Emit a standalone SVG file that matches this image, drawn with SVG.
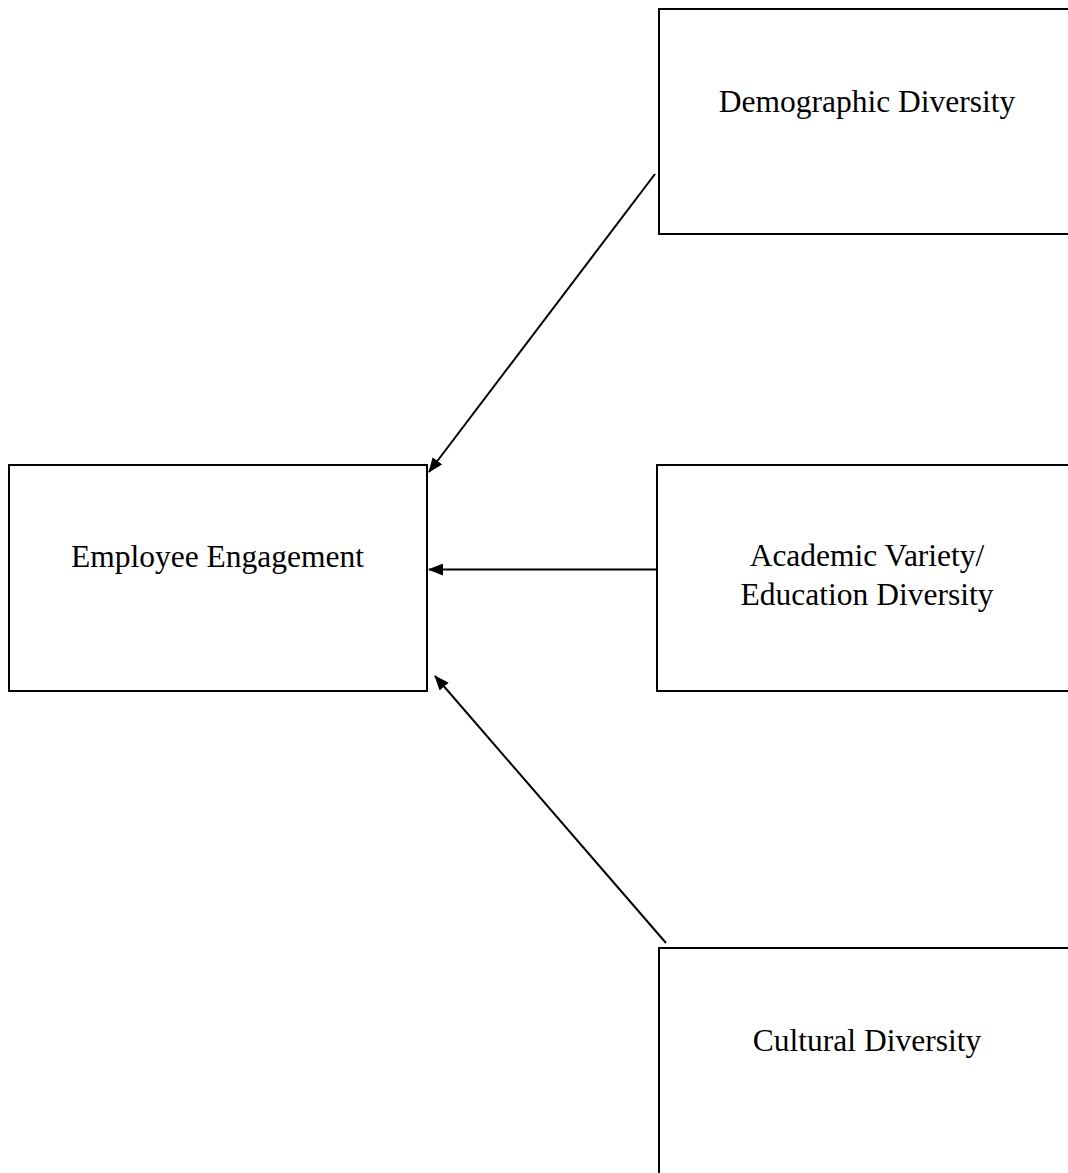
<svg xmlns="http://www.w3.org/2000/svg" width="1068" height="1173" viewBox="0 0 1068 1173">
<style>
.box{fill:#fff;stroke:#000;stroke-width:2}
.lbl{font-family:"Liberation Serif","Times New Roman",serif;font-size:31.5px;fill:#000;text-anchor:middle}
.conn{stroke:#000;stroke-width:2;fill:none;marker-end:url(#ah)}
</style>
<defs>
<marker id="ah" markerWidth="8" markerHeight="8" refX="7" refY="4" orient="auto" markerUnits="userSpaceOnUse" viewBox="0 0 8 8">
<path d="M0,0 L8,4 L0,8 Z" fill="#000"/>
</marker>
<marker id="ah2" markerWidth="15" markerHeight="12" refX="14" refY="6" orient="auto" markerUnits="userSpaceOnUse">
<path d="M0,0 L15,6 L0,12 Z" fill="#000"/>
</marker>
</defs>
<rect width="1068" height="1173" fill="#fff"/>
<g id="employee-engagement">
<rect class="box" x="9" y="465" width="418" height="226"/>
<text class="lbl" x="217.5" y="567">Employee Engagement</text>
</g>
<g id="demographic-diversity">
<rect class="box" x="659" y="9" width="420" height="225"/>
<text class="lbl" x="867" y="112">Demographic Diversity</text>
</g>
<g id="academic-diversity">
<rect class="box" x="657" y="465" width="420" height="226"/>
<text class="lbl" x="867" y="566">Academic Variety/</text>
<text class="lbl" x="867" y="605">Education Diversity</text>
</g>
<g id="cultural-diversity">
<rect class="box" x="659" y="948" width="420" height="240"/>
<text class="lbl" x="867" y="1051">Cultural Diversity</text>
</g>
<g id="connectors" stroke="#000" stroke-width="2" fill="none">
<line x1="655" y1="174" x2="429" y2="472" marker-end="url(#ah2)"/>
<line x1="658" y1="569.5" x2="429" y2="569.5" marker-end="url(#ah2)"/>
<line x1="666" y1="943" x2="435" y2="676" marker-end="url(#ah2)"/>
</g>
</svg>
